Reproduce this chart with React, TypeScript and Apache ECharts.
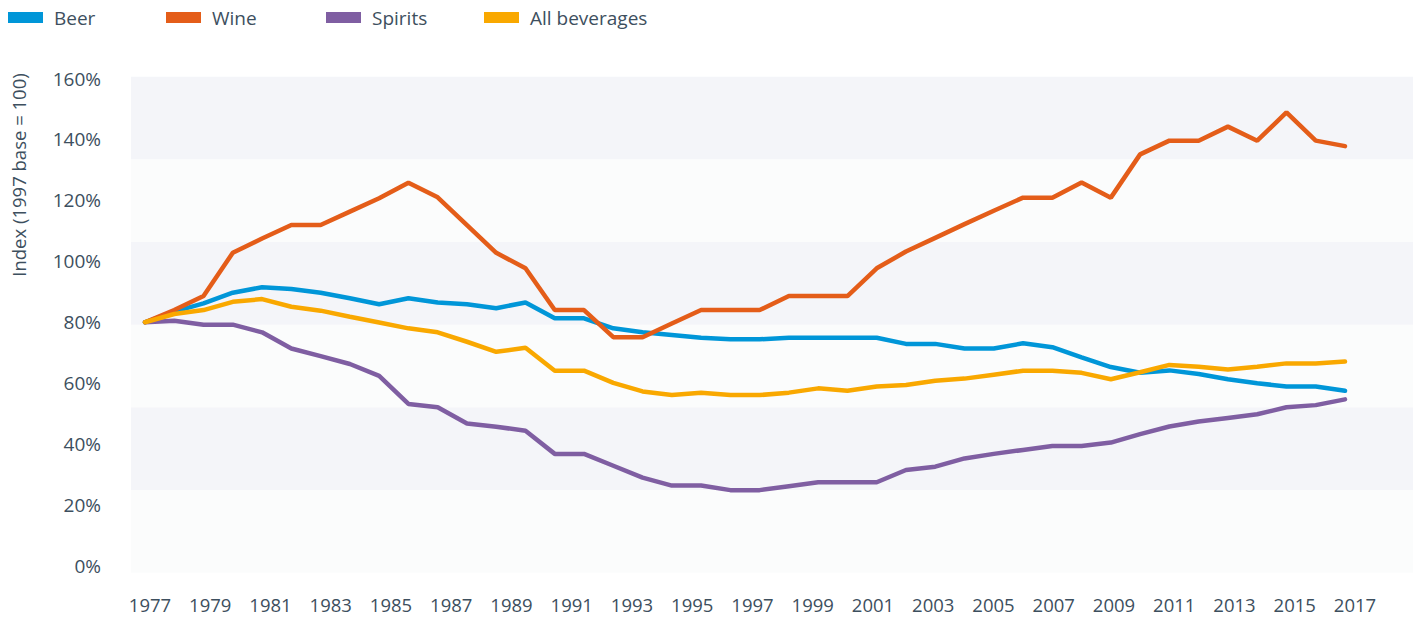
import React, { useEffect, useRef } from "react";
import * as echarts from "echarts";

const FONT = '"Open Sans", "Noto Sans", sans-serif';
const TEXT = "#3d4f5e";

const seriesNames = ["Beer", "Wine", "Spirits", "All beverages"];
const seriesColors = ["#0096d8", "#e45d19", "#7f5ea2", "#f9a800"];

const years = [
  1977, 1978, 1979, 1980, 1981, 1982, 1983, 1984, 1985, 1986, 1987, 1988, 1989, 1990,
  1991, 1992, 1993, 1994, 1995, 1996, 1997, 1998, 1999, 2000, 2001, 2002, 2003, 2004,
  2005, 2006, 2007, 2008, 2009, 2010, 2011, 2012, 2013, 2014, 2015, 2016, 2017, 2018,
];

const tickLabels = [
  "1977", "1979", "1981", "1983", "1985", "1987", "1989", "1991", "1993", "1995", "1997",
  "1999", "2001", "2003", "2005", "2007", "2009", "2011", "2013", "2015", "2017",
];

const beer = [
  80, 83.5, 86.2, 89.7, 91.5, 90.9, 89.7, 87.9, 85.9, 87.9, 86.5, 85.9, 84.6, 86.5,
  81.3, 81.3, 78.0, 76.7, 75.8, 74.9, 74.4, 74.4, 74.9, 74.9, 74.9, 74.9, 72.9, 72.9,
  71.4, 71.4, 73.1, 71.8, 68.5, 65.3, 63.4, 64.2, 63.0, 61.3, 60.0, 58.9, 58.9, 57.5,
];

const wine = [
  80, 84.0, 88.6, 102.8, 107.5, 111.9, 111.9, 116.3, 120.7, 125.8, 121.0, 111.9, 102.8, 97.7,
  84.0, 84.0, 75.1, 75.1, 79.6, 84.0, 84.0, 84.0, 88.6, 88.6, 88.6, 97.7, 103.2, 107.7,
  112.2, 116.6, 120.9, 120.9, 125.9, 120.9, 135.1, 139.6, 139.6, 144.2, 139.6, 148.9, 139.6, 137.8,
];

const spirits = [
  80, 80.5, 79.2, 79.2, 76.7, 71.4, 68.9, 66.3, 62.4, 53.2, 52.1, 46.8, 45.7, 44.4,
  36.8, 36.8, 32.9, 29.0, 26.4, 26.4, 24.9, 24.9, 26.2, 27.5, 27.5, 27.5, 31.5, 32.6,
  35.3, 36.8, 38.1, 39.4, 39.4, 40.5, 43.3, 45.8, 47.4, 48.6, 49.8, 52.1, 52.8, 54.7,
];

const allBeverages = [
  80, 82.7, 84.0, 86.7, 87.6, 85.1, 83.8, 81.8, 79.9, 78.0, 76.7, 73.6, 70.3, 71.6,
  64.1, 64.1, 60.1, 57.3, 56.1, 56.9, 56.1, 56.1, 56.9, 58.3, 57.5, 58.9, 59.4, 60.8,
  61.5, 62.8, 64.1, 64.1, 63.4, 61.3, 63.6, 66.0, 65.4, 64.5, 65.4, 66.5, 66.5, 67.1,
];

const seriesValues = [beer, wine, spirits, allBeverages];
const yTicks = { min: 0, max: 160, interval: 20 };

export default function App() {
  const ref = useRef<HTMLDivElement>(null);

  useEffect(() => {
    document.body.style.margin = "0";
    const chart = echarts.init(ref.current!, null, { renderer: "svg" });
    const legendLefts = [3, 161, 321, 479];

    chart.setOption({
      animation: false,
      backgroundColor: "#ffffff",
      textStyle: { fontFamily: FONT },
      legend: seriesNames.map((name, i) => ({
        data: [name],
        left: legendLefts[i],
        top: 3,
        icon: "rect",
        itemWidth: 35,
        itemHeight: 11,
        itemStyle: { borderWidth: 0 },
        selectedMode: false,
        textStyle: {
          fontFamily: FONT,
          fontSize: 19,
          color: TEXT,
          padding: [0, 0, 0, 6],
        },
      })),
      grid: [
        { left: 145, right: 71, top: 78.5, bottom: 51 },
        { left: 131, right: 3, top: 76.7, bottom: 44.3 },
        { left: 150, right: 61, top: 78.5, bottom: 51 },
      ],
      xAxis: [
        {
          gridIndex: 0,
          type: "category",
          data: years.map(String),
          boundaryGap: false,
          show: false,
        },
        {
          gridIndex: 1,
          type: "value",
          min: 0,
          max: 1,
          show: false,
        },
        {
          gridIndex: 2,
          type: "category",
          data: tickLabels,
          boundaryGap: false,
          axisLine: { show: false },
          axisTick: { show: false },
          splitLine: { show: false },
          axisLabel: {
            interval: 0,
            margin: 29,
            fontFamily: FONT,
            fontSize: 18.5,
            color: TEXT,
          },
        },
      ],
      yAxis: [
        {
          gridIndex: 0,
          type: "value",
          min: yTicks.min,
          max: yTicks.max,
          interval: yTicks.interval,
          axisLine: { show: false },
          axisTick: { show: false },
          splitLine: { show: false },
          axisLabel: {
            formatter: "{value}%",
            margin: 44,
            fontFamily: FONT,
            fontSize: 19,
            color: TEXT,
          },
        },
        {
          gridIndex: 1,
          type: "value",
          min: 0,
          max: 6,
          interval: 1,
          axisLine: { show: false },
          axisTick: { show: false },
          axisLabel: { show: false },
          splitLine: { show: false },
          splitArea: {
            show: true,
            areaStyle: { color: ["#fbfcfc", "#f4f5f9"] },
          },
        },
        {
          gridIndex: 2,
          type: "value",
          show: false,
        },
      ],
      graphic: [
        {
          type: "text",
          x: 18,
          y: 175,
          rotation: Math.PI / 2,
          style: {
            text: "Index (1997 base = 100)",
            fill: TEXT,
            fontFamily: FONT,
            fontSize: 18.5,
            align: "center",
            verticalAlign: "middle",
          },
        },
      ],
      series: seriesNames.map((name, i) => ({
        name,
        type: "line",
        xAxisIndex: 0,
        yAxisIndex: 0,
        data: seriesValues[i],
        color: seriesColors[i],
        showSymbol: false,
        symbol: "none",
        lineStyle: { color: seriesColors[i], width: 4.5, cap: "round" },
        itemStyle: { color: seriesColors[i] },
        z: 2 + i,
      })),
    });

    return () => chart.dispose();
  }, []);

  return <div ref={ref} style={{ width: 1416, height: 617 }} />;
}
